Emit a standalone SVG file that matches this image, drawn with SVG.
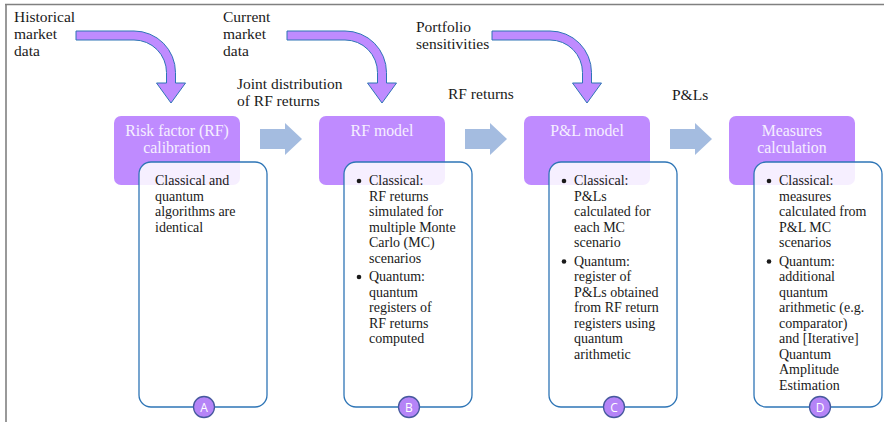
<svg xmlns="http://www.w3.org/2000/svg" width="884" height="422" viewBox="0 0 884 422">
<style>
text{font-family:'Liberation Serif',serif}
.t{font-size:15.5px;fill:#1a1a1a}
.h{font-size:15.8px;fill:#f6efff;text-anchor:middle}
.b{font-size:14px;fill:#1a1a1a}
.dot{fill:#1a1a1a}
.stage{fill:#bf8bff}
.card{fill:#ffffff;fill-opacity:0.86;stroke:#2e75b6;stroke-width:1.3}
.badge{fill:#b584f7;stroke:#46599e;stroke-width:1.3}
text.bl{font-family:'Open Sans',sans-serif;font-size:12px;fill:#ffffff;text-anchor:middle}
.curve{fill:#bf8bff;stroke:#2e75b6;stroke-width:1}
.blk{fill:#a4bce0}
</style>
<defs>
<path id="curv" d="M76,31 H134 A41.5,41.5 0 0 1 175.5,72.5 V83 H185.5 L171,103 L156.5,83 H166.5 V72.5 A32.5,32.5 0 0 0 134,40 H76 Z"/>
<path id="blkarrow" d="M260,129 H285 V123 L302,139 L285,155 V149 H260 Z"/>
</defs>
<rect x="0" y="0" width="884" height="422" fill="#ffffff"/>
<path d="M5,4.5 H884 M6,4 V422" fill="none" stroke="#808080" stroke-width="1.6"/>

<g id="inputs">
<text class="t" x="14" y="22">Historical</text>
<text class="t" x="14" y="39">market</text>
<text class="t" x="14" y="56">data</text>
<text class="t" x="223" y="22">Current</text>
<text class="t" x="223" y="39">market</text>
<text class="t" x="223" y="56">data</text>
<text class="t" x="416" y="32">Portfolio</text>
<text class="t" x="416" y="49">sensitivities</text>
</g>

<g id="connectors">
<use href="#curv" class="curve"/>
<use href="#curv" class="curve" transform="translate(211,0)"/>
<use href="#curv" class="curve" transform="translate(416,0)"/>
<use href="#blkarrow" class="blk"/>
<use href="#blkarrow" class="blk" transform="translate(205,0)"/>
<use href="#blkarrow" class="blk" transform="translate(410,0)"/>
<text class="t" x="237" y="89">Joint distribution</text>
<text class="t" x="237" y="106">of RF returns</text>
<text class="t" x="448" y="99">RF returns</text>
<text class="t" x="672" y="100">P&amp;Ls</text>
</g>

<g id="stageA">
<rect class="stage" x="114" y="116" width="126" height="69" rx="7"/>
<text class="h" x="177" y="136">Risk factor (RF)</text>
<text class="h" x="177" y="153">calibration</text>
<rect class="card" x="139" y="162" width="128" height="245" rx="12"/>
<text class="b" x="155" y="185">Classical and</text>
<text class="b" x="155" y="200.5">quantum</text>
<text class="b" x="155" y="216">algorithms are</text>
<text class="b" x="155" y="231.5">identical</text>
<circle class="badge" cx="204" cy="407" r="10.5"/>
<text class="bl" x="204" y="411.5">A</text>
</g>

<g id="stageB">
<rect class="stage" x="319" y="116" width="126" height="69" rx="7"/>
<text class="h" x="382" y="136">RF model</text>
<rect class="card" x="344" y="162" width="128" height="245" rx="12"/>
<circle class="dot" cx="359" cy="181" r="2.3"/>
<text class="b" x="369" y="185">Classical:</text>
<text class="b" x="369" y="200.5">RF returns</text>
<text class="b" x="369" y="216">simulated for</text>
<text class="b" x="369" y="231.5">multiple Monte</text>
<text class="b" x="369" y="247">Carlo (MC)</text>
<text class="b" x="369" y="262.5">scenarios</text>
<circle class="dot" cx="359" cy="277" r="2.3"/>
<text class="b" x="369" y="281">Quantum:</text>
<text class="b" x="369" y="296.5">quantum</text>
<text class="b" x="369" y="312">registers of</text>
<text class="b" x="369" y="327.5">RF returns</text>
<text class="b" x="369" y="343">computed</text>
<circle class="badge" cx="409" cy="407" r="10.5"/>
<text class="bl" x="409" y="411.5">B</text>
</g>

<g id="stageC">
<rect class="stage" x="524" y="116" width="126" height="69" rx="7"/>
<text class="h" x="587" y="136">P&amp;L model</text>
<rect class="card" x="549" y="162" width="128" height="245" rx="12"/>
<circle class="dot" cx="564" cy="181" r="2.3"/>
<text class="b" x="574" y="185">Classical:</text>
<text class="b" x="574" y="200.5">P&amp;Ls</text>
<text class="b" x="574" y="216">calculated for</text>
<text class="b" x="574" y="231.5">each MC</text>
<text class="b" x="574" y="247">scenario</text>
<circle class="dot" cx="564" cy="261.5" r="2.3"/>
<text class="b" x="574" y="265.5">Quantum:</text>
<text class="b" x="574" y="281">register of</text>
<text class="b" x="574" y="296.5">P&amp;Ls obtained</text>
<text class="b" x="574" y="312">from RF return</text>
<text class="b" x="574" y="327.5">registers using</text>
<text class="b" x="574" y="343">quantum</text>
<text class="b" x="574" y="358.5">arithmetic</text>
<circle class="badge" cx="614" cy="407" r="10.5"/>
<text class="bl" x="614" y="411.5">C</text>
</g>

<g id="stageD">
<rect class="stage" x="729" y="116" width="126" height="69" rx="7"/>
<text class="h" x="792" y="136">Measures</text>
<text class="h" x="792" y="153">calculation</text>
<rect class="card" x="754" y="162" width="128" height="245" rx="12"/>
<circle class="dot" cx="769" cy="181" r="2.3"/>
<text class="b" x="779" y="185">Classical:</text>
<text class="b" x="779" y="200.5">measures</text>
<text class="b" x="779" y="216">calculated from</text>
<text class="b" x="779" y="231.5">P&amp;L MC</text>
<text class="b" x="779" y="247">scenarios</text>
<circle class="dot" cx="769" cy="261.5" r="2.3"/>
<text class="b" x="779" y="265.5">Quantum:</text>
<text class="b" x="779" y="281">additional</text>
<text class="b" x="779" y="296.5">quantum</text>
<text class="b" x="779" y="312">arithmetic (e.g.</text>
<text class="b" x="779" y="327.5">comparator)</text>
<text class="b" x="779" y="343">and [Iterative]</text>
<text class="b" x="779" y="358.5">Quantum</text>
<text class="b" x="779" y="374">Amplitude</text>
<text class="b" x="779" y="389.5">Estimation</text>
<circle class="badge" cx="820" cy="407" r="10.5"/>
<text class="bl" x="820" y="411.5">D</text>
</g>
</svg>
